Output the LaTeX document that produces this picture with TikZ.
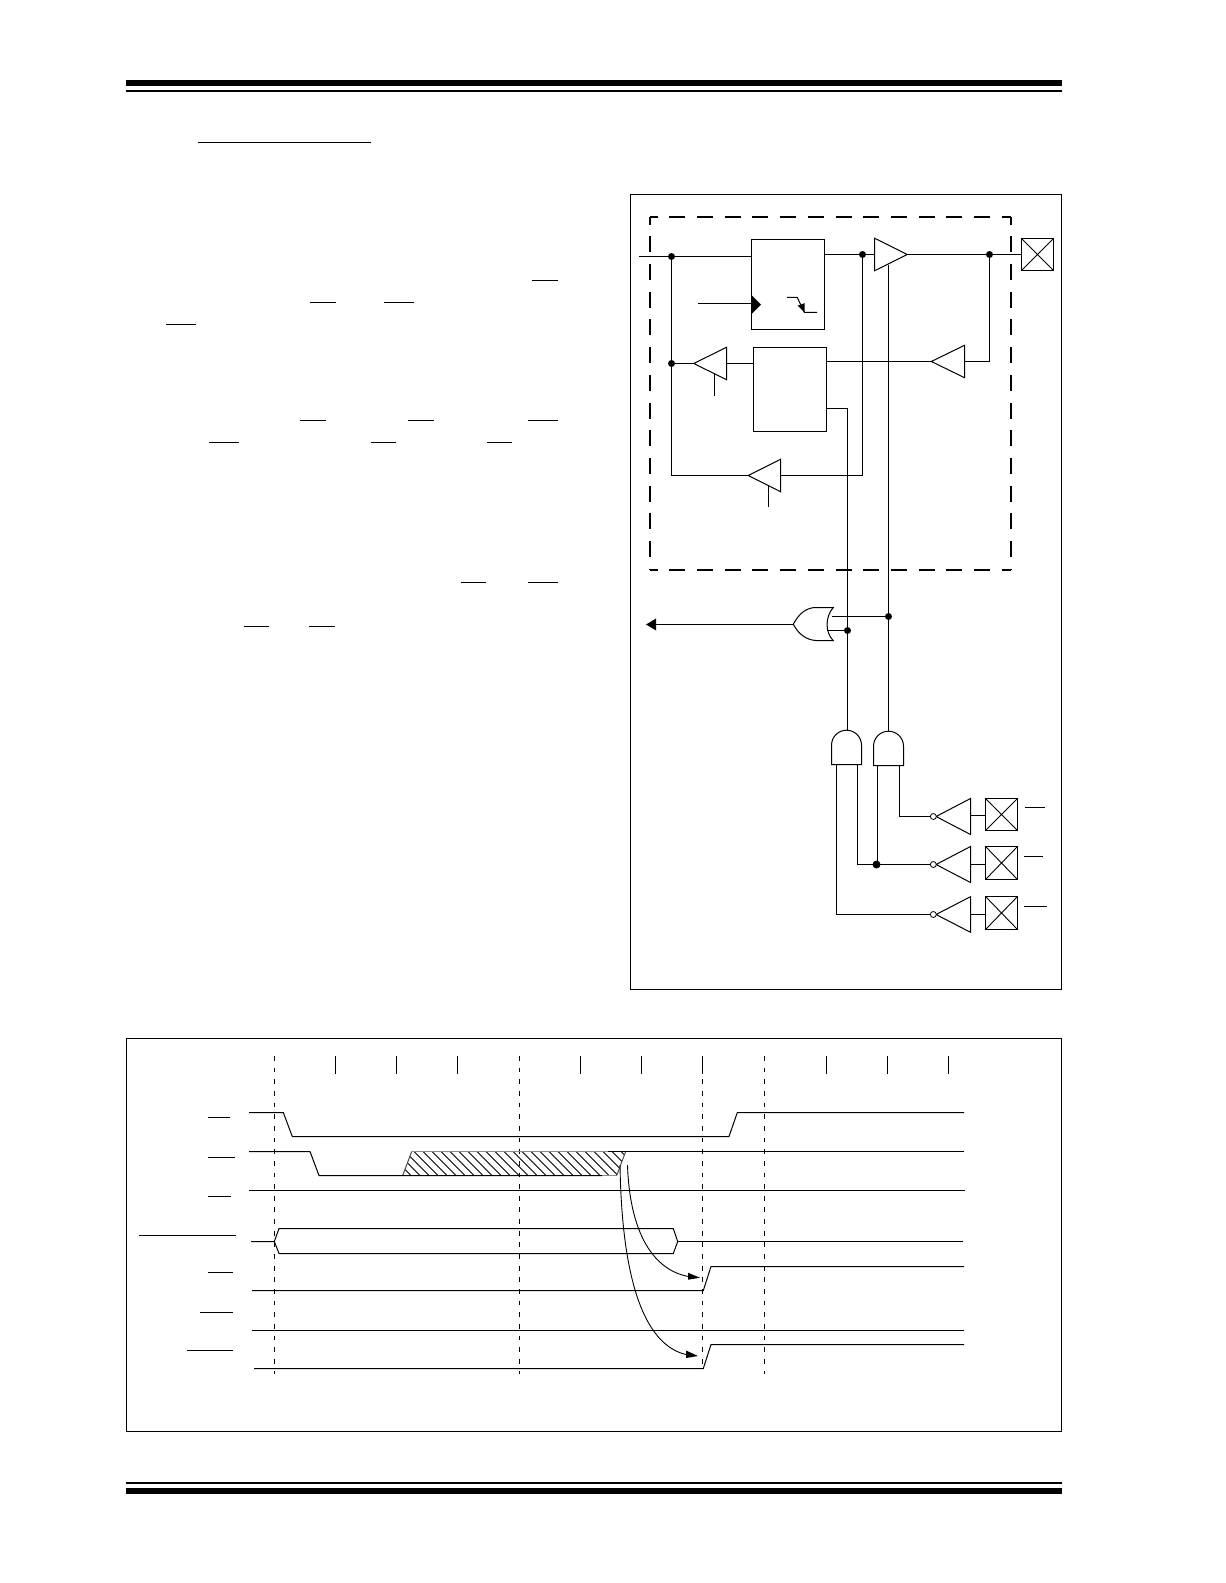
\documentclass[tikz,border=0pt]{standalone}
\usepackage{tikz}
\tikzset{
  wire/.style={line width=0.5pt,black,line cap=butt,line join=miter},
  frame/.style={line width=0.5pt,black},
  overbar/.style={line width=0.5pt,black},
  bigdash/.style={line width=1pt,black,dash pattern=on 8pt off 5.85pt,dash phase=4.2pt},
  tdash/.style={line width=0.5pt,black,dash pattern=on 2.4pt off 3.425pt},
  jdot/.style={circle,fill=black,inner sep=0pt,minimum size=3.5pt},
  bigdot/.style={circle,fill=black,inner sep=0pt,minimum size=4pt},
  bubble/.style={circle,draw=black,fill=white,line width=0.4pt,inner sep=0pt,minimum size=3pt},
  hatchline/.style={line width=0.4pt,black}
}
\newcommand{\tribuf}[5]{% name, tip x, y, base x, half height
  \coordinate (#1-tip) at (#2,#3);
  \coordinate (#1-base) at (#4,#3);
  \draw[wire,fill=white] (#2,#3) -- (#4,#3-#5) -- (#4,#3+#5) -- cycle;
}
\newcommand{\padbox}[5]{% name, x1,y1,x2,y2
  \coordinate (#1-a) at (#2,#3);
  \coordinate (#1-c) at (#4,#5);
  \draw[wire,fill=white] (#1-a) rectangle (#1-c);
  \draw[line width=0.45pt] (#2,#3) -- (#4,#5) (#2,#5) -- (#4,#3);
}
\newcommand{\andgate}[4]{% name, x1, x2, bottom
  \pgfmathsetmacro{\rr}{(#3-#2)/2}
  \pgfmathsetmacro{\sy}{#4-19.3}
  \pgfmathsetmacro{\kk}{\rr*0.5523}
  \pgfmathsetmacro{\mx}{(#2+#3)/2}
  \pgfmathsetmacro{\ty}{\sy-\rr}
  \coordinate (#1-top) at (\mx,\ty);
  \draw[wire,fill=white] (#2,#4) -- (#2,\sy) .. controls (#2,\sy-\kk) and (\mx-\kk,\ty) .. (\mx,\ty)
    .. controls (\mx+\kk,\ty) and (#3,\sy-\kk) .. (#3,\sy) -- (#3,#4) -- cycle;
}
\begin{document}
\begin{tikzpicture}[x=0.5pt,y=-0.5pt]
\path[fill=white,use as bounding box] (0,0) rectangle (1225,1583);

% page rules
\fill[black] (126,80) rectangle (1062,86);
\fill[black] (126,90) rectangle (1062,92);
\fill[black] (126,1482) rectangle (1062,1484);
\fill[black] (126,1488) rectangle (1062,1494);

% text overbars
\foreach \a/\b/\c in {198/371/142.5,532/558/280.5,310/336/302.5,384/414/302.5,166/196/324.5,
  300/326/420.5,408/434/420.5,528/558/420.5,209/239/442.5,371/396/442.5,487/512/442.5,
  461/486/582.5,528/558/582.5,244/269/626.5,309/335/626.5,
  1025/1045/807.5,1024/1043/856.5,1024/1047/906.5,
  208/230/1117.5,208/235/1157.5,208/231/1196.5,139/236/1235.5,208/233/1272.5,200/233/1312.5,187/233/1350.5}
  {\draw[overbar] (\a,\c) -- (\b,\c);}

% frames
\draw[frame] (630.5,194.5) rectangle (1061.5,989.5);
\draw[frame] (126.5,1038.5) rectangle (1061.5,1431.5);

% dashed module outline
\coordinate (dTL) at (650,217); \coordinate (dTR) at (1011,217);
\coordinate (dBL) at (650,570); \coordinate (dBR) at (1011,570);
\draw[bigdash] (dTL) -- (dTR);
\draw[bigdash] (dTL) -- (dBL);
\draw[bigdash] (dTR) -- (dBR);
\draw[bigdash] (dBL) -- (dBR);

% junctions
\coordinate (jIn) at (671.5,256.5);
\coordinate (jMid) at (671.5,363.5);
\coordinate (jQ) at (862.5,254.5);
\coordinate (jPad) at (989.5,254.5);
\coordinate (jOr1) at (888.5,616.5);
\coordinate (jOr2) at (847.5,630.5);
\coordinate (jAnd) at (876.5,864.5);

% data latch and bus latch
\node[draw,line width=0.5pt,fill=white,minimum width=36.5pt,minimum height=45pt,inner sep=0pt,outer sep=0pt,anchor=north west] (ff) at (751.5,239.5) {};
\node[draw,line width=0.5pt,fill=white,minimum width=36.5pt,minimum height=42pt,inner sep=0pt,outer sep=0pt,anchor=north west] (latch) at (753.5,347.5) {};

% wires inside module
\coordinate (inS) at (639,256.5);
\coordinate (ffD) at (751.5,256.5);
\coordinate (ffQ) at (824.5,254.5);
\draw[wire] (inS) -- (ffD);
\draw[wire] (jIn) -- (671.5,475.5);
\draw[wire] (ffQ) -- (874.5,254.5);
\draw[wire] (jQ) -- (862.5,475.5);

\coordinate (ckS) at (698,303.5); \coordinate (ckE) at (751.5,303.5);
\draw[wire] (ckS) -- (ckE);
\fill[black] (751.3,295) -- (761,304.7) -- (751.3,314.3) -- cycle;
\draw[wire] (787,297.5) -- (797.3,297.5) -- (804.3,312.5) -- (817,312.5);
\fill[black] (804.6,312.6) -- (797.6,305.6) -- (804.6,303.2) -- cycle;

% tri-state buffers
\tribuf{bufQ}{907.3}{254.5}{874.5}{16.3}
\tribuf{bufIn}{931.3}{361.5}{964.5}{16.2}
\tribuf{bufL}{693.7}{363.5}{726.5}{16.2}
\tribuf{bufB}{748.3}{475.5}{780.5}{16.2}

\coordinate (latchR) at (826.5,361.5);
\coordinate (latchL) at (753.5,363.5);
\coordinate (latchO) at (826.5,408.5);
\draw[wire] (bufQ-tip) -- (1021.5,254.5);
\draw[wire] (latchR) -- (bufIn-tip);
\draw[wire] (bufIn-base) -- (989.5,361.5) -- (jPad);
\draw[wire] (latchL) -- (bufL-base);
\draw[wire] (bufL-tip) -- (jMid);
\draw[wire] (714.5,373.8) -- (714.5,395.7);
\draw[wire] (bufB-base) -- (862.5,475.5);
\draw[wire] (bufB-tip) -- (671.5,475.5);
\draw[wire] (768.5,485.2) -- (768.5,506.7);

% long verticals
\draw[wire] (latchO) -- (847.5,408.5) -- (847.5,730.7);
\draw[wire] (888.5,265) -- (888.5,731.3);

% OR gate
\coordinate (orOut) at (793.3,624.5);
\coordinate (orArrow) at (656,624.5);
\draw[wire] (orOut) -- (orArrow);
\fill[black] (646,624.5) -- (656,618.5) -- (656,630.5) -- cycle;
\draw[wire,fill=white] (793.3,624.3) .. controls (799,613) and (807,607.5) .. (816,607.5) -- (833.3,607.5)
  .. controls (825.5,616) and (824.5,632) .. (833.3,640.7) -- (816,640.5)
  .. controls (807,640) and (799,635) .. (793.3,624.3) -- cycle;
\draw[wire] (831.5,616.5) -- (jOr1);
\draw[wire] (827.3,630.5) -- (jOr2);

% AND gates
\andgate{and1}{831.5}{861.5}{764.5}
\andgate{and2}{873.5}{903.5}{765.5}

% inverters and pads
\tribuf{inv1}{936}{816.5}{970.5}{18}
\tribuf{inv2}{936}{864.5}{970.5}{18}
\tribuf{inv3}{936}{914.5}{970.5}{17.8}
\node[bubble] (b1) at (933.3,816.5) {};
\node[bubble] (b2) at (933.3,864.5) {};
\node[bubble] (b3) at (933.3,914.5) {};
\padbox{pad0}{1021.5}{238.5}{1053.5}{270.5}
\padbox{pad1}{985.5}{798.5}{1017.5}{830.5}
\padbox{pad2}{985.5}{846.5}{1017.5}{879.5}
\padbox{pad3}{985.5}{896.5}{1017.5}{929.5}
\draw[wire] (970.5,815.5) -- (985.5,815.5);
\draw[wire] (970.5,864.5) -- (985.5,864.5);
\draw[wire] (970.5,914.5) -- (985.5,914.5);

\draw[wire] (836.5,764.5) -- (836.5,914.5) -- (b3);
\draw[wire] (857.5,764.5) -- (857.5,864.5) -- (b2);
\draw[wire] (877.5,765.5) -- (877.5,864.5);
\draw[wire] (899.5,765.5) -- (899.5,816.5) -- (b1);

% dots
\foreach \j in {jIn,jMid,jQ,jPad,jOr1,jOr2}{\node[jdot] at (\j) {};}
\node[bigdot] at (jAnd) {};

% ---------- timing diagram ----------
% ticks
\foreach \x in {335.5,396.5,457.5,580.5,641.5,702.5,826.5,887.5,948.5}
  {\draw[wire] (\x,1056) -- (\x,1074.3);}
% dashed verticals
\draw[tdash] (274.5,1056) -- (274.5,1373.7);
\draw[tdash] (519.5,1056) -- (519.5,1373.7);
\draw[tdash] (702.5,1079.3) -- (702.5,1368);
\draw[tdash] (764.5,1056) -- (764.5,1373.7);

% signals
\draw[wire] (249,1112.5) -- (283.3,1112.5) -- (292.3,1136.5) -- (729,1136.5) -- (737.3,1112.5) -- (964,1112.5);

% hatched region
\begin{scope}
\clip (402.7,1175.5) -- (411.7,1151.5) -- (625.7,1151.5) -- (616.7,1175.5) -- cycle;
\foreach \a in {0,...,28}{
  \draw[hatchline] ({378+\a*9},1151.5) -- ({378+\a*9+24},1175.5);
}
\end{scope}
\draw[line width=0.5pt,black!45] (411.7,1151.5) -- (608,1151.5);
\draw[line width=0.5pt,black!45] (602,1175.5) -- (616.7,1175.5);
\draw[line width=0.5pt,black!70] (402.7,1175.5) -- (411.7,1151.5);
\draw[line width=0.5pt,black!70] (625.7,1151.5) -- (616.7,1175.5);
\draw[wire] (249,1151.5) -- (310,1151.5) -- (319,1175.5) -- (602,1175.5);
\draw[wire] (608,1151.5) -- (964,1151.5);

\draw[wire] (249,1190.5) -- (965,1190.5);

\draw[wire] (251,1241.5) -- (274.3,1241.5) -- (279,1228.5) -- (673.3,1228.5) -- (677.7,1241.5) -- (673.3,1253.5) -- (279,1253.5) -- (274.3,1241.5);
\draw[wire] (677.7,1241.5) -- (963.3,1241.5);

\draw[wire] (252,1290.5) -- (703.3,1290.5) -- (711,1266.5) -- (964,1266.5);
\draw[wire] (252,1330.5) -- (964,1330.5);
\draw[wire] (254,1368.5) -- (703.3,1368.5) -- (711,1344.5) -- (964,1344.5);

% delay arrows
\coordinate (aS) at (627.5,1165); \coordinate (aE) at (692,1277);
\coordinate (bS) at (620,1165);   \coordinate (bE) at (690,1355.3);
\draw[line width=0.45pt] (aS) .. controls (630,1240) and (658,1273) .. (aE);
\fill[black] (700,1277.7) -- (688,1272.7) -- (688,1279.7) -- cycle;
\draw[line width=0.45pt] (bS) .. controls (622,1290) and (648,1349) .. (bE);
\fill[black] (698,1356) -- (686,1350.5) -- (686,1358) -- cycle;
\end{tikzpicture}
\end{document}
